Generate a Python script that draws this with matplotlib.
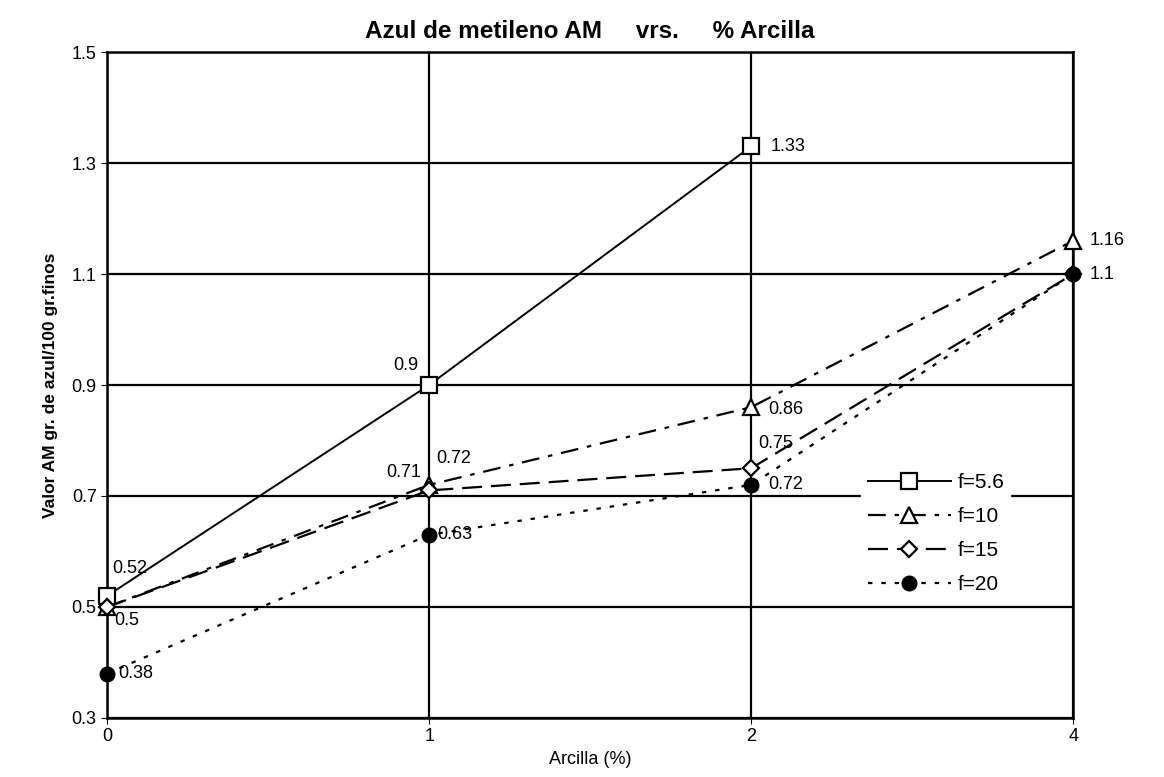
import numpy as np
import matplotlib
matplotlib.use("Agg")
import matplotlib.pyplot as plt

plt.rcParams['font.family'] = ['Liberation Sans', 'DejaVu Sans']

# datos
categorias = ['0', '1', '2', '4']
f56 = [0.52, 0.9, 1.33]
f10 = [0.5, 0.72, 0.86, 1.16]
f15 = [0.5, 0.71, 0.75, 1.1]
f20 = [0.38, 0.63, 0.72, 1.1]

etiquetas = ['f=5.6', 'f=10', 'f=15', 'f=20']

fig = plt.figure(figsize=(11.64, 7.77), dpi=100)
ax = fig.add_axes([0.092, 0.076, 0.830, 0.857])

x = np.arange(len(categorias))

ax.plot(x[:len(f56)], f56, color='black', lw=1.4, ls='-', marker='s', ms=11,
        mfc='white', mec='black', mew=1.6, label=etiquetas[0], zorder=5,
        clip_on=False)
ax.plot(x, f10, color='black', lw=1.6, ls=(0, (8, 4, 2, 4)), marker='^', ms=11,
        mfc='white', mec='black', mew=1.6, label=etiquetas[1], zorder=5,
        clip_on=False)
ax.plot(x, f15, color='black', lw=1.6, ls=(0, (9, 4)), marker='D', ms=8.5,
        mfc='white', mec='black', mew=1.6, label=etiquetas[2], zorder=5,
        clip_on=False)
ax.plot(x, f20, color='black', lw=1.6, ls=(0, (2, 4)), marker='o', ms=10.5,
        mfc='black', mec='black', label=etiquetas[3], zorder=6, clip_on=False)

# etiquetas de valores
fs = 13
def etiqueta(xi, yi, txt, dx, dy, ha='left', va='center'):
    ax.annotate(txt, (xi, yi), xytext=(dx, dy), textcoords='offset points',
                ha=ha, va=va, fontsize=fs)

etiqueta(0, f56[0], '0.52', 4, 20)
etiqueta(1, f56[1], '0.9', -8, 14, ha='right')
etiqueta(2, f56[2], '1.33', 14, 0)
etiqueta(1, f10[1], '0.72', 5, 19)
etiqueta(2, f10[2], '0.86', 12, -2)
etiqueta(3, f10[3], '1.16', 12, 0)
etiqueta(0, f15[0], '0.5', 5, -10)
etiqueta(1, f15[1], '0.71', -6, 13, ha='right')
etiqueta(2, f15[2], '0.75', 5, 18)
etiqueta(0, f20[0], '0.38', 8, 0)
etiqueta(1, f20[1], '0.63', 6, 0)
etiqueta(2, f20[2], '0.72', 12, 0)
etiqueta(3, f20[3], '1.1', 12, 0)

ax.set_xlim(0, 3)
ax.set_ylim(0.3, 1.5)
ax.set_xticks(x)
ax.set_xticklabels(categorias)
ax.set_yticks(np.arange(0.3, 1.51, 0.2))
ax.set_yticklabels(['0.3', '0.5', '0.7', '0.9', '1.1', '1.3', '1.5'])
ax.tick_params(labelsize=13, length=4, color='black')

ax.grid(True, color='black', lw=1.6)
ax.set_axisbelow(True)
for s in ax.spines.values():
    s.set_linewidth(1.8)

ax.set_title('Azul de metileno AM     vrs.     % Arcilla', fontsize=17.5,
             fontweight='bold', pad=10)
ax.set_xlabel('Arcilla (%)', fontsize=13, labelpad=4)
ax.set_ylabel('Valor AM gr. de azul/100 gr.finos', fontsize=12.5,
              fontweight='bold', labelpad=10)

leg = ax.legend(loc='upper left', bbox_to_anchor=(0.77, 0.393), frameon=True,
                fontsize=15, handlelength=4, labelspacing=0.72,
                handletextpad=0.3, borderpad=0.3)
leg.get_frame().set_edgecolor('white')
leg.get_frame().set_facecolor('white')
leg.get_frame().set_alpha(1)

fig.savefig('out.png', dpi=100)
